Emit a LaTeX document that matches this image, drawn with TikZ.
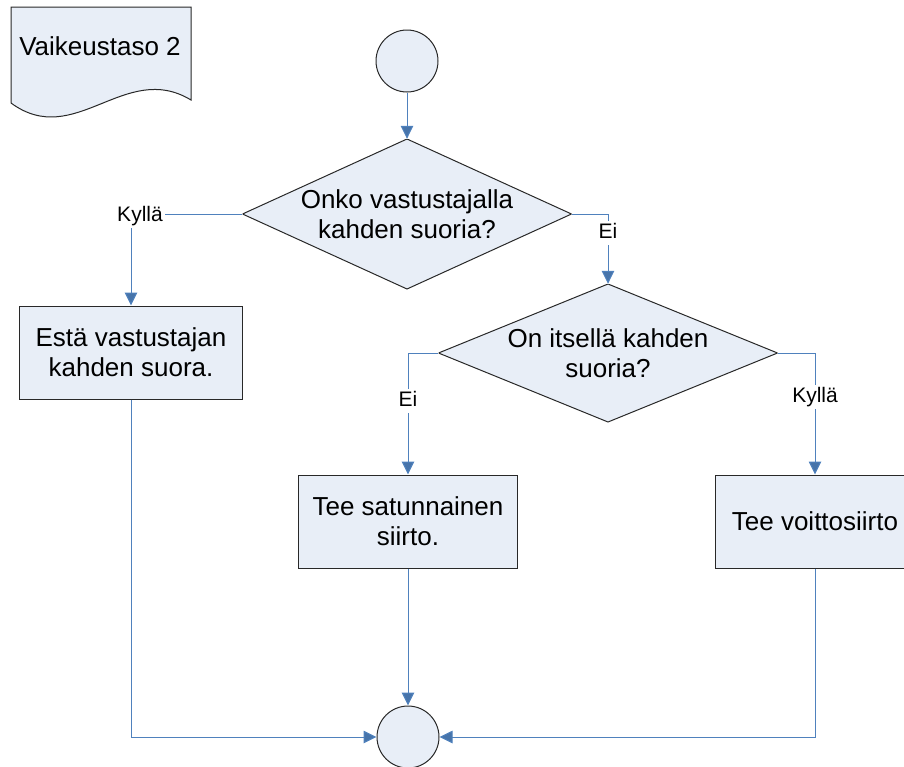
\documentclass[tikz,border=0pt]{standalone}
\usepackage{fontspec}
\setmainfont{Liberation Sans}
\usetikzlibrary{arrows.meta}
\definecolor{shapefill}{RGB}{232,238,247}
\definecolor{connblue}{RGB}{79,129,189}
\definecolor{outline}{RGB}{40,40,40}
\begin{document}
\begin{tikzpicture}[x=1pt,y=-1pt,
  every node/.style={font=\fontsize{26}{30}\selectfont},
  shapeline/.style={draw=outline, line width=1pt, fill=shapefill},
  proc/.style={shapeline, inner sep=0pt, minimum height=93pt, align=center},
  term/.style={shapeline, circle, minimum size=62pt, inner sep=0pt},
  decision/.style={inner sep=0pt, align=center,
    path picture={\path[shapeline]
      (path picture bounding box.north) -- (path picture bounding box.east) --
      (path picture bounding box.south) -- (path picture bounding box.west) -- cycle;}},
  conn/.style={draw=connblue, line width=1pt,
    -{Triangle[width=12.5pt,length=13pt,fill=connblue!90!black]}},
  lbl/.style={fill=white, inner sep=2pt, text height=15pt, text depth=5pt,
    font=\fontsize{21}{25}\selectfont},
]
\clip (0,0) rectangle (904,766);

% document symbol with wavy bottom edge
\path[shapeline] (11,7) -- (191,7) -- (191,100)
  .. controls (125,60) and (75,150) .. (11,103) -- cycle;
\node (doc) at (100,46) {Vaikeustaso 2};

% flow nodes
\node[term] (start) at (407,61) {};
\node[decision, minimum width=329pt, minimum height=150pt] (d1) at (407,214)
  {Onko vastustajalla\\kahden suoria?};
\node[proc, minimum width=223pt] (b1) at (131,352.5)
  {Estä vastustajan\\kahden suora.};
\node[decision, minimum width=339pt, minimum height=138pt] (d2) at (608,353)
  {On itsellä kahden\\suoria?};
\node[proc, minimum width=219pt] (b2) at (408,521.5)
  {Tee satunnainen\\siirto.};
\node[proc, minimum width=200pt] (b3) at (815,521.5)
  {Tee voittosiirto};
\node[term] (end) at (408,737) {};

% connectors
\draw[conn] (start.south) -- (d1.north);
\draw[conn] (d1.west) -| (b1.north);
\draw[conn] (d1.east) -| (d2.north);
\draw[conn] (d2.west) -| (b2.north);
\draw[conn] (d2.east) -| (b3.north);
\draw[conn] (b1.south) |- (end.west);
\draw[conn] (b2.south) -- (end.north);
\draw[conn] (b3.south) |- (end.east);

% branch labels
\node[lbl] (yes1) at (140,216) {Kyllä};
\node[lbl] (no1) at (608,233) {Ei};
\node[lbl] (no2) at (408,401) {Ei};
\node[lbl] (yes2) at (815,397) {Kyllä};
\end{tikzpicture}
\end{document}
